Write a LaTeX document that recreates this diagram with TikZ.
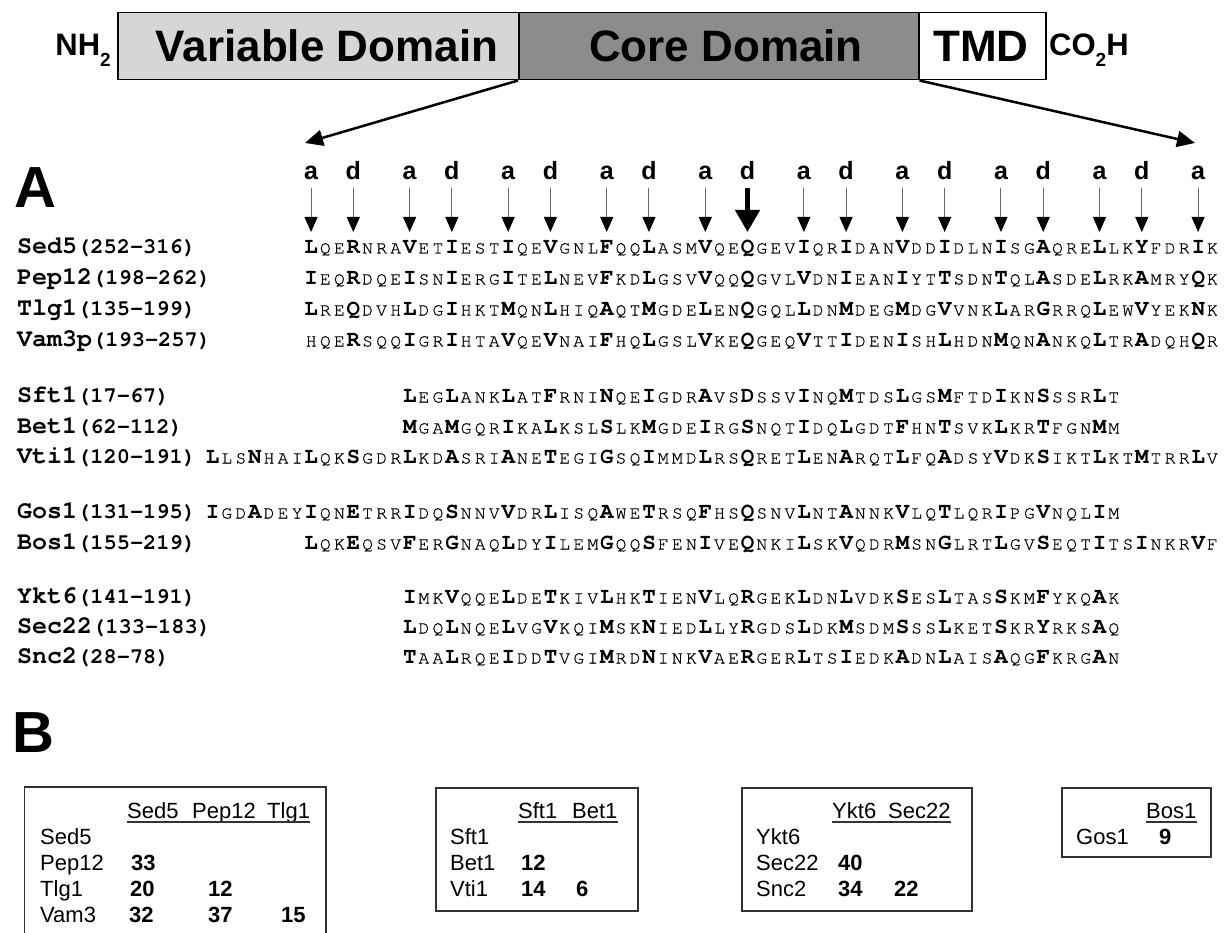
\documentclass[tikz,border=0pt]{standalone}
\usepackage{fontspec}
\setmainfont{Liberation Sans}
\newfontfamily\monof{texgyrecursor-regular.otf}[BoldFont=texgyrecursor-bold.otf]
\newfontfamily\monofr{texgyrecursor-regular.otf}[FakeBold=0.6]
\usetikzlibrary{arrows.meta,calc}
\definecolor{varcol}{gray}{0.84}
\definecolor{corecol}{gray}{0.55}
\newlength\rescw
\setlength\rescw{14.08pt}
\newcommand\seqB{\monof\bfseries\fontsize{22.5}{22.5}\selectfont}
\newcommand\seqR{\monofr\fontsize{18}{18}\selectfont}
\newcommand\rch[1]{\makebox[\rescw][c]{\ifnum`#1<`a\relax{\seqB #1}\else{\seqR\uppercase{#1}}\fi}}
\def\seqrun#1{\ifx#1\relax\else\rch{#1}\expandafter\seqrun\fi}
\newcommand\lblname[2]{{\monof\bfseries\fontsize{25}{25}\selectfont #1}{\monof\bfseries\fontsize{22}{22}\selectfont(#2)}}
\begin{document}
\begin{tikzpicture}[x=1pt,y=-1pt,
  dombox/.style={draw=black, line width=1.5pt, minimum height=67pt, inner sep=0, anchor=north west},
  domtext/.style={font=\bfseries\fontsize{44}{44}\selectfont, inner sep=0},
  endtext/.style={font=\bfseries\fontsize{31}{31}\selectfont, inner sep=0},
  seqrow/.style={anchor=base west, inner sep=0},
  rowlbl/.style={anchor=base west, inner sep=0},
  heptad/.style={font=\bfseries\fontsize{25}{25}\selectfont, anchor=base, inner sep=0},
  thinarr/.style={draw=black!60, line width=1pt, -{Triangle[length=15pt,width=13pt,color=black]}},
  bigarr/.style={draw=black, line width=4.5pt, -{Triangle[length=22pt,width=24pt]}},
  zoomarr/.style={draw=black, line width=2.5pt, -{Triangle[length=18pt,width=16pt]}},
  tbox/.style={draw=black!80, line width=1.5pt},
  tboxn/.style={tbox, anchor=north west, inner sep=0},
  ttext/.style={font=\fontsize{22}{22}\selectfont, anchor=base west, inner sep=0},
  tnum/.style={font=\bfseries\fontsize{22}{22}\selectfont, anchor=base west, inner sep=0},
  uline/.style={draw=black!80, line width=1.2pt},
  panel/.style={font=\bfseries\fontsize{58}{58}\selectfont, anchor=base west, inner sep=0}]
\useasboundingbox (0,0) rectangle (1228,933);
\fill[white] (0,0) rectangle (1228,933);
% ---- domain bar
\node[dombox, fill=varcol, minimum width=401pt] (var) at (117,12) {};
\node[dombox, fill=corecol, minimum width=400pt] (core) at (518,12) {};
\node[dombox, fill=white, minimum width=127pt] (tmd) at (918,12) {};
\node[domtext] (vart) at (327,46) {Variable Domain};
\node[domtext] (coret) at (726,46) {Core Domain};
\node[domtext] (tmdt) at (981,46) {TMD};
\node[endtext, anchor=base east] (nh2) at (111,56) {NH\raisebox{-11pt}{\fontsize{19}{19}\selectfont 2}};
\node[endtext, anchor=base west] (co2h) at (1049,56) {CO\raisebox{-11pt}{\fontsize{19}{19}\selectfont 2}H};
\coordinate (lt) at (305,143);
\coordinate (rt) at (1195,143);
\draw[zoomarr] (core.south west) -- (lt);
\draw[zoomarr] (core.south east) -- (rt);
% ---- panel A
\node[panel] (pA) at (14,208) {A};
\foreach \c/\l [count=\k] in {1/a,4/d,8/a,11/d,15/a,18/d,22/a,25/d,29/a,32/d,36/a,39/d,43/a,46/d,50/a,53/d,57/a,60/d,64/a} {
  \pgfmathsetmacro\xx{304+(\c-0.5)*14.08}
  \node[heptad] (h\k) at (\xx,180) {\l};
  \coordinate (hs\k) at (\xx,188);
  \coordinate (ht\k) at (\xx,232);
  \ifnum\c=32 \draw[bigarr] (hs\k) -- (ht\k); \else \draw[thinarr] (hs\k) -- (ht\k); \fi
}
% rows
\node[rowlbl] (l1) at (17,253.5) {\lblname{Sed5}{252-316}};
\node[seqrow] (s1) at (304,253.5) {\seqrun LqeRnraVetIestIqeVgnlFqqLasmVqeQgevIqrIdanVddIdlnIsgAqreLlkYfdrIk\relax};
\node[rowlbl] (l2) at (17,284.5) {\lblname{Pep12}{198-262}};
\node[seqrow] (s2) at (304,284.5) {\seqrun IeqRdqeIsnIergIteLnevFkdLgsvVqqQgvlVdnIeanIytTsdnTqlAsdeLrkAmryQk\relax};
\node[rowlbl] (l3) at (17,315.5) {\lblname{Tlg1}{135-199}};
\node[seqrow] (s3) at (304,315.5) {\seqrun LreQdvhLdgIhktMqnLhiqAqtMgdeLenQgqlLdnMdegMdgVvnkLarGrrqLewVyekNk\relax};
\node[rowlbl] (l4) at (17,346.5) {\lblname{Vam3p}{193-257}};
\node[seqrow] (s4) at (304,346.5) {\seqrun hqeRsqqIgrIhtaVqeVnaiFhqLgslVkeQgeqVttIdenIshLhdnMqnAnkqLtrAdqhQr\relax};
\node[rowlbl] (l5) at (17,402.5) {\lblname{Sft1}{17-67}};
\node[seqrow] (s5) at (402.56,402.5) {\seqrun LegLankLatFrniNqeIgdrAvsDssvInqMtdsLgsMftdIknSssrLt\relax};
\node[rowlbl] (l6) at (17,433.5) {\lblname{Bet1}{62-112}};
\node[seqrow] (s6) at (402.56,433.5) {\seqrun MgaMgqrIkaLkslSlkMgdeIrgSnqtIdqLgdtFhnTsvkLkrTfgnMm\relax};
\node[rowlbl] (l7) at (17,463.5) {\lblname{Vti1}{120-191}};
\node[seqrow] (s7) at (205.44,463.5) {\seqrun LlsNhaiLqkSgdrLkdAsriAneTegiGsqImmdLrsQretLenArqtLfqAdsyVdkSiktLktMtrrLv\relax};
\node[rowlbl] (l8) at (17,518.5) {\lblname{Gos1}{131-195}};
\node[seqrow] (s8) at (205.44,518.5) {\seqrun IgdAdeyIqnEtrrIdqSnnvVdrLisqAweTrsqFhsQsnvLntAnnkVlqTlqrIpgVnqlIm\relax};
\node[rowlbl] (l9) at (17,549.5) {\lblname{Bos1}{155-219}};
\node[seqrow] (s9) at (304,549.5) {\seqrun LqkEqsvFerGnaqLdyIlemGqqSfenIveQnkiLskVqdrMsnGlrtLgvSeqtItsInkrVf\relax};
\node[rowlbl] (l10) at (17,603.5) {\lblname{Ykt6}{141-191}};
\node[seqrow] (s10) at (402.56,603.5) {\seqrun ImkVqqeLdeTkivLhkTienVlqRgekLdnLvdkSesLtasSkmFykqAk\relax};
\node[rowlbl] (l11) at (17,633.5) {\lblname{Sec22}{133-183}};
\node[seqrow] (s11) at (402.56,633.5) {\seqrun LdqLnqeLvgVkqiMskNiedLlyRgdsLdkMsdmSssLketSkrYrksAq\relax};
\node[rowlbl] (l12) at (17,663.5) {\lblname{Snc2}{28-78}};
\node[seqrow] (s12) at (402.56,663.5) {\seqrun TaaLrqeIddTvgiMrdNinkVaeRgerLtsIedkAdnLaisAqgFkrgAn\relax};
% ---- panel B
\node[panel] (pB) at (12,752) {B};
% table 1 (cut by the page edge)
\draw[tbox] (24.5,933) -- (24.5,787) -- (326,787) -- (326,933);
\node[ttext] (a1) at (127,818) {Sed5};
\node[ttext] (a2) at (192,818) {Pep12};
\node[ttext] (a3) at (267,818) {Tlg1};
\draw[uline] ($(a1.base west)+(0,4)$) -- ($(a3.base east)+(0,4)$);
\node[ttext] (ar1) at (40,844) {Sed5};
\node[ttext] (ar2) at (40,870) {Pep12};
\node[ttext] (ar3) at (40,896) {Tlg1};
\node[ttext] (ar4) at (40,922) {Vam3};
\node[tnum] (an1) at (131,870) {33};
\node[tnum] (an2) at (130,896) {20};
\node[tnum] (an3) at (208,896) {12};
\node[tnum] (an4) at (129,922) {32};
\node[tnum] (an5) at (208,922) {37};
\node[tnum] (an6) at (281,922) {15};
% table 2
\node[tboxn, minimum width=202pt, minimum height=123pt] (tb2) at (435,787) {};
\node[ttext] (b1) at (518,818) {Sft1};
\node[ttext] (b2) at (572,818) {Bet1};
\draw[uline] ($(b1.base west)+(0,4)$) -- ($(b2.base east)+(0,4)$);
\node[ttext] (br1) at (450,844) {Sft1};
\node[ttext] (br2) at (450,870) {Bet1};
\node[ttext] (br3) at (450,896) {Vti1};
\node[tnum] (bn1) at (521,870) {12};
\node[tnum] (bn2) at (521,896) {14};
\node[tnum] (bn3) at (576,896) {6};
% table 3
\node[tboxn, minimum width=230pt, minimum height=123pt] (tb3) at (741,787) {};
\node[ttext] (c1) at (832,818) {Ykt6};
\node[ttext] (c2) at (888,818) {Sec22};
\draw[uline] ($(c1.base west)+(0,4)$) -- ($(c2.base east)+(0,4)$);
\node[ttext] (cr1) at (756,844) {Ykt6};
\node[ttext] (cr2) at (756,870) {Sec22};
\node[ttext] (cr3) at (756,896) {Snc2};
\node[tnum] (cn1) at (838,870) {40};
\node[tnum] (cn2) at (838,896) {34};
\node[tnum] (cn3) at (894,896) {22};
% table 4
\node[tboxn, minimum width=149pt, minimum height=69pt] (tb4) at (1061,787) {};
\node[ttext] (d1) at (1146,818) {Bos1};
\draw[uline] ($(d1.base west)+(0,4)$) -- ($(d1.base east)+(0,4)$);
\node[ttext] (dr1) at (1076,844) {Gos1};
\node[tnum] (dn1) at (1159,844) {9};
\end{tikzpicture}
\end{document}
